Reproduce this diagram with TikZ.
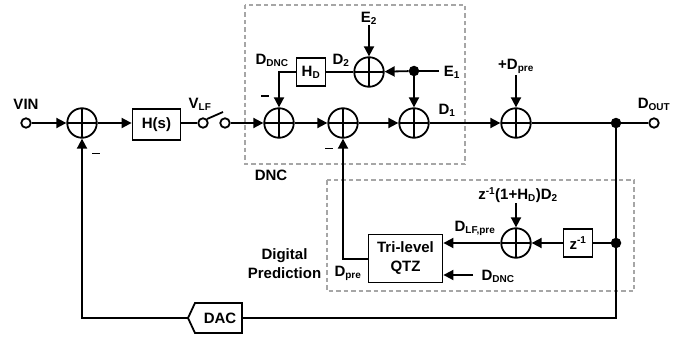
\documentclass[tikz,border=0pt]{standalone}
\usepackage{fontspec}
\setmainfont{Liberation Sans}
\usetikzlibrary{arrows.meta,calc}
\definecolor{dashgray}{gray}{0.65}
\newcommand{\lfont}{\fontsize{15}{19}\selectfont\bfseries}
\tikzset{
  x=1pt,y=-1pt,
  wire/.style={line width=1.8pt,black},
  arr/.style={wire,-{Triangle[length=10pt,width=10pt]}},
  blockbox/.style={draw,line width=1.8pt,fill=white,inner sep=0pt,align=center,font=\lfont},
  sumnode/.style={draw,circle,line width=1.8pt,minimum size=29.5pt,inner sep=0pt,
    path picture={\draw[line width=1.3pt] (path picture bounding box.north)--(path picture bounding box.south)
      (path picture bounding box.west)--(path picture bounding box.east);}},
  term/.style={draw,circle,line width=1.8pt,fill=white,minimum size=9.5pt,inner sep=0pt},
  junction/.style={fill,circle,minimum size=10.5pt,inner sep=0pt},
  lab/.style={inner sep=0pt,font=\lfont,align=center},
  dashbox/.style={draw=dashgray,line width=1.7pt,dash pattern=on 4.5pt off 3pt},
  minus/.style={draw=black,line width=1pt},
}
\newcommand{\sbs}[1]{\textsubscript{\fontsize{10}{10}\selectfont #1}}
\newcommand{\sps}[1]{\textsuperscript{\fontsize{10}{10}\selectfont #1}}
\begin{document}
\begin{tikzpicture}
\useasboundingbox (0,0) rectangle (683,337);
% dashed regions
\draw[dashbox] (245,5) rectangle (465,164);
\draw[dashbox] (327,180) rectangle (634,291);
% summing nodes
\node[sumnode] (s1) at (82,123) {};
\node[sumnode] (s2) at (279,123) {};
\node[sumnode] (s3) at (343,123) {};
\node[sumnode] (s4) at (414,123) {};
\node[sumnode] (s5) at (369,72) {};
\node[sumnode] (s6) at (516,123) {};
\node[sumnode] (s7) at (516,243) {};
% blocks
\node[blockbox,minimum width=48pt,minimum height=31pt] (hs) at (156.5,124.5) {H(s)};
\node[blockbox,minimum width=29pt,minimum height=28pt] (hd) at (311,72) {H\sbs{D}};
\node[blockbox,minimum width=29pt,minimum height=28pt] (zi) at (578,243) {z\sps{-1}};
\node[blockbox,minimum width=74pt,minimum height=48pt] (qtz) at (405.5,258.5) {Tri-level\\QTZ};
\node[lab] (dac) at (220,318) {DAC};
\draw[line width=1.8pt] (188,318) -- (195,303) -- (242,303) -- (242,333) -- (195,333) -- cycle;
\coordinate (dacL) at (188,318);
\coordinate (dacR) at (242,318);
% terminals and junctions
\node[term] (vin) at (26,123) {};
\node[term] (sw1) at (203,123) {};
\node[term] (sw2) at (225,123) {};
\node[term] (out) at (654,123) {};
\node[junction] (j1) at (414,71) {};
\node[junction] (j2) at (616,123) {};
\node[junction] (j3) at (616,243) {};
% free ends
\coordinate (e1) at (439,71);
\coordinate (e2) at (369,25);
\coordinate (dp) at (516,75);
\coordinate (zt) at (516,203);
\coordinate (dn) at (473,275);
\coordinate (lever) at (223,112);
% connectors
\draw[arr] (vin) -- (s1);
\draw[arr] (s1) -- (hs.west |- s1);
\draw[wire] (hs.east |- sw1) -- (sw1);
\draw[wire] (sw1.north east) -- (lever);
\draw[arr] (sw2) -- (s2);
\draw[arr] (s2) -- (s3);
\draw[arr] (s3) -- (s4);
\draw[arr] (s4) -- (s6);
\draw[wire] (s6) -- (j2);
\draw[wire] (j2) -- (out);
\draw[arr] (hd.west) -| (s2);
\draw[wire] (s5) -- (hd);
\draw[arr] (e2) -- (s5);
\draw[wire] (e1) -- (j1);
\draw[arr] (j1) -- (s5);
\draw[arr] (j1.center) -- (s4);
\draw[arr] (dp) -- (s6);
\draw[wire] (j2) -- (j3);
\draw[wire] (j3) -- (zi);
\draw[arr] (zi) -- (s7);
\draw[arr] (zt) -- (s7);
\draw[arr] (s7) -- (qtz.east |- s7);
\draw[arr] (dn) -- (qtz.east |- dn);
\draw[arr] (qtz.west |- 0,259) -| (s3);
\draw[wire] (j3) |- (dacR);
\draw[arr] (dacL) -| (s1);
% labels
\node[lab] (tvin) at (26,104) {VIN};
\node[lab] (tvlf) at (200,104) {V\sbs{LF}};
\node[lab] (tddnc) at (272,60) {D\sbs{DNC}};
\node[lab] (td2) at (341,60) {D\sbs{2}};
\node[lab] (te2) at (369,18) {E\sbs{2}};
\node[lab] (te1) at (452,72) {E\sbs{1}};
\node[lab] (td1) at (447,110) {D\sbs{1}};
\node[lab] (tdp) at (516,66) {+D\sbs{pre}};
\node[lab] (tdo) at (654,104) {D\sbs{OUT}};
\node[lab] (tdnc) at (271,175) {DNC};
\node[lab] (tdig) at (284.5,264) {Digital\\Prediction};
\node[lab] (tdpre) at (348,273) {D\sbs{pre}};
\node[lab] (tz) at (518,195) {z\sps{-1}(1+H\sbs{D})D\sbs{2}};
\node[lab] (tlf) at (475,228) {D\sbs{LF,pre}};
\node[lab] (tdd) at (498,276) {D\sbs{DNC}};
\draw[minus] (92,153) -- (100,153);
\draw[minus] (261,96) -- (269,96);
\draw[minus] (325,148) -- (333,148);
\end{tikzpicture}
\end{document}
